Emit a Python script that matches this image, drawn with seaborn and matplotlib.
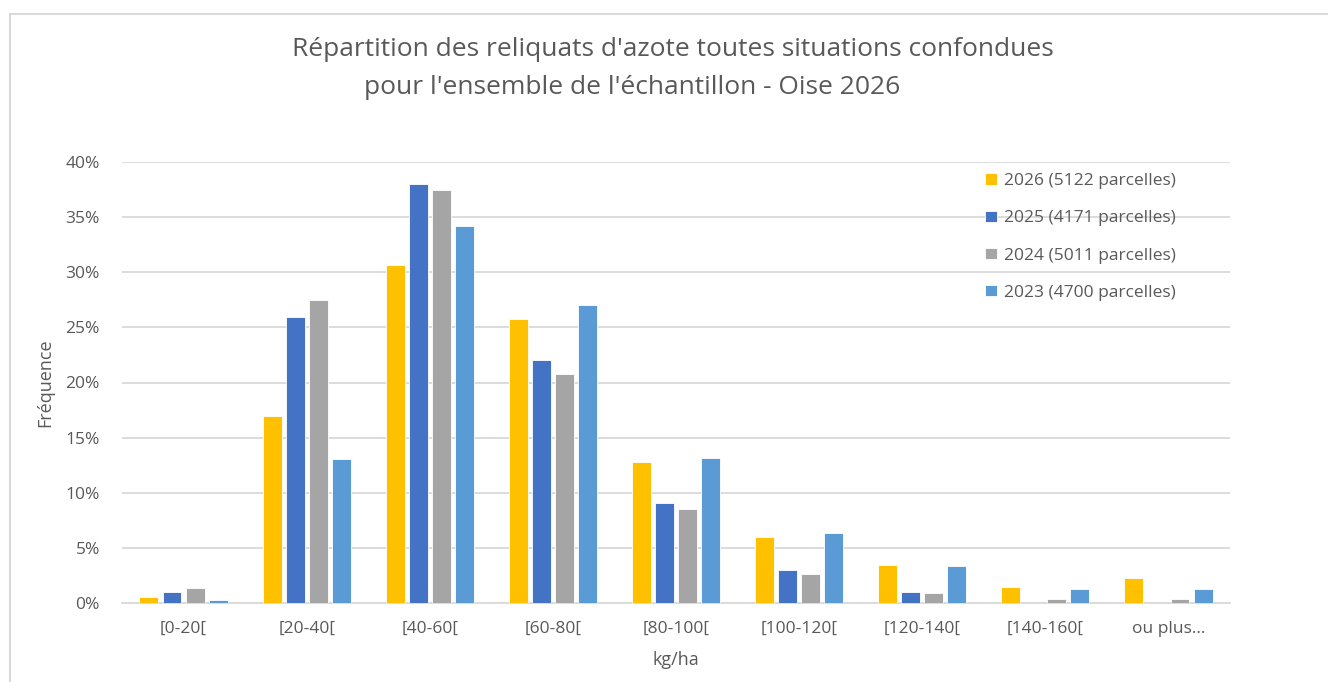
import numpy as np
import pandas as pd
import matplotlib
matplotlib.use("Agg")
import matplotlib.pyplot as plt
from matplotlib.ticker import PercentFormatter
from matplotlib.patches import Rectangle
import seaborn as sns

# ── Data ─────────────────────────────────────────────────
classes = ["[0-20[", "[20-40[", "[40-60[", "[60-80[", "[80-100[",
           "[100-120[", "[120-140[", "[140-160[", "ou plus..."]
series = ["2026 (5122 parcelles)", "2025 (4171 parcelles)",
          "2024 (5011 parcelles)", "2023 (4700 parcelles)"]

freq_2026 = [0.52, 17.0, 30.65, 25.75, 12.8, 5.95, 3.45, 1.45, 2.25]
freq_2025 = [1.0, 25.95, 38.0, 22.0, 9.05, 3.0, 1.0, 0.0, 0.0]
freq_2024 = [1.35, 27.5, 37.5, 20.8, 8.5, 2.6, 0.88, 0.33, 0.33]
freq_2023 = [0.24, 13.05, 34.2, 27.0, 13.15, 6.35, 3.38, 1.27, 1.27]

COLORS = ["#FFC000", "#4472C4", "#A5A5A5", "#5B9BD5"]
GRID = "#D9D9D9"
TXT = "#595959"

df = pd.DataFrame({
    "classe": classes * 4,
    "serie": np.repeat(series, len(classes)),
    "freq": freq_2026 + freq_2025 + freq_2024 + freq_2023,
})

# ── Style ────────────────────────────────────────────────
sns.set_theme(style="white")
plt.rcParams["font.family"] = ["Open Sans", "DejaVu Sans"]

fig = plt.figure(figsize=(13.28, 6.82), dpi=100)
ax = fig.add_axes([122 / 1328, 79 / 682, 1108 / 1328, 441 / 682])

sns.barplot(data=df, x="classe", y="freq", hue="serie",
            palette=COLORS, order=classes, hue_order=series,
            width=0.75, gap=0.18, saturation=1, ax=ax, zorder=3,
            edgecolor="white", linewidth=0.6)

ax.set_ylim(0, 40)
ax.set_xlim(-0.5, len(classes) - 0.5)
ax.set_yticks(np.arange(0, 41, 5))
ax.yaxis.set_major_formatter(PercentFormatter(decimals=0))
ax.grid(axis="y", color=GRID, linewidth=1.3, zorder=0)
for s in ["top", "right", "left"]:
    ax.spines[s].set_visible(False)
ax.spines["bottom"].set_color(GRID)
ax.spines["bottom"].set_linewidth(1.3)
ax.tick_params(axis="both", length=0, labelsize=12.5, colors=TXT, pad=16)
ax.tick_params(axis="x", pad=13)

ax.set_xlabel("kg/ha", fontsize=13, color=TXT, labelpad=10)
ax.set_ylabel("Fréquence", fontsize=13, color=TXT, labelpad=8)

leg = ax.legend(loc="upper left", bbox_to_anchor=(0.765, 1.01), frameon=False,
                fontsize=12.5, handlelength=0.65, handleheight=0.65,
                handletextpad=0.45, labelspacing=1.22)
for t in leg.get_texts():
    t.set_color(TXT)

fig.text(673 / 1328, 1 - 50 / 682,
         "Répartition des reliquats d'azote toutes situations confondues",
         ha="center", va="center", fontsize=19, color=TXT)
fig.text(632 / 1328, 1 - 88 / 682,
         "pour l'ensemble de l'échantillon - Oise 2026",
         ha="center", va="center", fontsize=19, color=TXT)

# outer chart frame
fig.patches.append(Rectangle((10 / 1328, -0.05), 1.1, 1.05 - 14 / 682,
                             transform=fig.transFigure, fill=False,
                             edgecolor=GRID, linewidth=1.5))

fig.savefig("out.png", dpi=100)
